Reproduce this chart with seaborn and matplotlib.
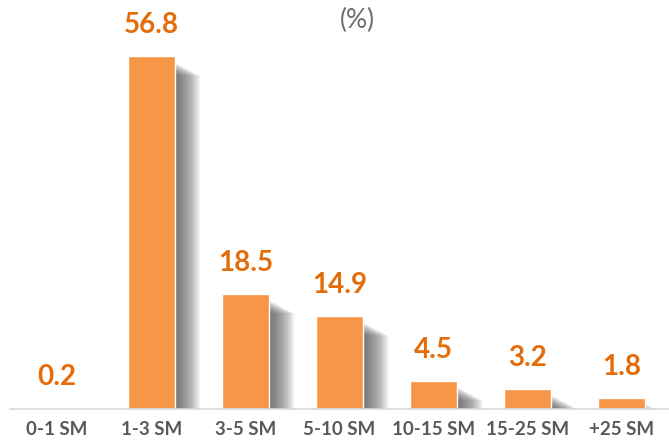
import matplotlib
matplotlib.use("Agg")
import matplotlib.pyplot as plt
import numpy as np
import seaborn as sns

sns.set_style("white")
plt.rcParams["font.family"] = ["Lato", "DejaVu Sans"]

# data
categories = ["0-1 SM", "1-3 SM", "3-5 SM", "5-10 SM", "10-15 SM", "15-25 SM", "+25 SM"]
values = [0.2, 56.8, 18.5, 14.9, 4.5, 3.2, 1.8]

bar_color = "#F79646"
label_color = "#E46C0A"
text_gray = "#595959"

fig = plt.figure(figsize=(6.69, 4.45), dpi=100)
ax = fig.add_axes([0.015, 0.081, 0.985, 0.919])

# soft shadow to the right of each bar
pos = np.arange(len(values))
vals = np.array(values)
n_layers = 36
for k in range(n_layers):
    shift = 0.01 + 0.0075 * k
    drop = 1.0 + 0.06 * k
    h = np.clip(vals - drop, 0, None)
    ax.bar(pos + shift, h, width=0.5, color="#505050", alpha=0.035,
           linewidth=0, zorder=1)

sns.barplot(x=categories, y=values, color=bar_color, width=0.5,
            saturation=1, ax=ax, zorder=3)
bars = ax.containers[-1]
ax.bar_label(bars, fmt="%.1f", padding=13, color=label_color,
             fontsize=20, fontweight="bold")

ax.set_xlim(-0.5, 6.5)
ax.set_ylim(0, 65.9)
ax.set_yticks([])
ax.set_xlabel("")
ax.set_ylabel("")
for s in ["top", "right", "left"]:
    ax.spines[s].set_visible(False)
ax.spines["bottom"].set_color("#D9D9D9")
ax.spines["bottom"].set_linewidth(1.2)
ax.spines["bottom"].set_zorder(4)
ax.tick_params(axis="x", length=0, pad=9, labelsize=13.5, labelcolor=text_gray)
for t in ax.get_xticklabels():
    t.set_fontweight("bold")

fig.text(0.535, 0.953, "(%)", ha="center", va="center", fontsize=19,
         color="#6E6E6E")

plt.savefig("out.png", dpi=100)
